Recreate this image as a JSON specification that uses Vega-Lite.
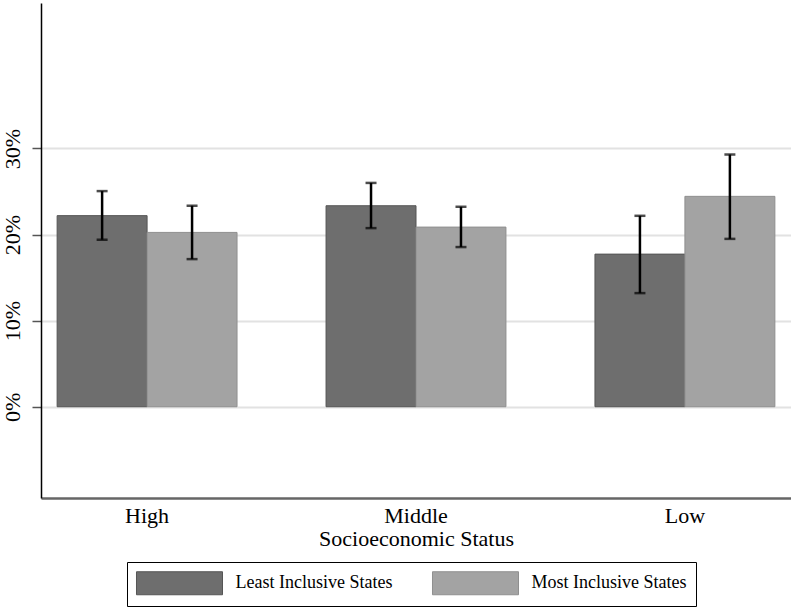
{
  "$schema": "https://vega.github.io/schema/vega-lite/v6.json",
  "width": 750,
  "height": 495,
  "autosize": {"type": "none"},
  "padding": {"left": 41, "top": 3, "right": 0, "bottom": 110},
  "background": "white",
  "config": {
    "view": {"stroke": null},
    "font": "Liberation Serif"
  },
  "data": {
    "values": [
      {"ses": "High", "group": "Least Inclusive States", "value": 22.2, "lo": 19.4, "hi": 25.05},
      {"ses": "High", "group": "Most Inclusive States", "value": 20.25, "lo": 17.15, "hi": 23.35},
      {"ses": "Middle", "group": "Least Inclusive States", "value": 23.35, "lo": 20.75, "hi": 26.0},
      {"ses": "Middle", "group": "Most Inclusive States", "value": 20.87, "lo": 18.55, "hi": 23.23},
      {"ses": "Low", "group": "Least Inclusive States", "value": 17.73, "lo": 13.2, "hi": 22.18},
      {"ses": "Low", "group": "Most Inclusive States", "value": 24.44, "lo": 19.5, "hi": 29.3}
    ]
  },
  "encoding": {
    "x": {
      "field": "ses",
      "type": "nominal",
      "sort": ["High", "Middle", "Low"],
      "scale": {"paddingInner": 0.331, "paddingOuter": 0.06},
      "axis": {
        "title": "Socioeconomic Status",
        "titleFont": "Liberation Serif",
        "titleFontSize": 22,
        "titleFontWeight": "normal",
        "titleColor": "black",
        "titlePadding": 2,
        "labelAngle": 0,
        "labelFont": "Liberation Serif",
        "labelFontSize": 22,
        "labelColor": "black",
        "labelPadding": 7,
        "ticks": false,
        "domainColor": "#666666",
        "domainWidth": 2.5
      }
    },
    "xOffset": {
      "field": "group",
      "type": "nominal",
      "scale": {"paddingInner": 0, "paddingOuter": 0}
    }
  },
  "layer": [
    {
      "mark": {"type": "bar", "strokeWidth": 1},
      "encoding": {
        "y": {
          "field": "value",
          "type": "quantitative",
          "scale": {"domain": [-10.6, 46.9], "nice": false, "zero": false},
          "axis": {
            "title": null,
            "values": [0, 10, 20, 30],
            "labelExpr": "datum.value + '%'",
            "labelAngle": 270,
            "labelAlign": "center",
            "labelBaseline": "alphabetic",
            "labelFont": "Liberation Serif",
            "labelFontSize": 22,
            "labelColor": "black",
            "labelPadding": 13,
            "grid": true,
            "gridColor": "#e2e2e2",
            "gridWidth": 2,
            "domainColor": "black",
            "domainWidth": 1.5,
            "tickColor": "#555555",
            "tickSize": 9,
            "tickWidth": 1.5
          }
        },
        "color": {
          "field": "group",
          "type": "nominal",
          "scale": {"range": ["#6e6e6e", "#a3a3a3"]},
          "legend": {
            "title": null,
            "orient": "none",
            "legendX": 86,
            "legendY": 559,
            "direction": "horizontal",
            "symbolType": "M-3.74,-1H3.74V1H-3.74Z",
            "symbolSize": 529,
            "symbolOffset": 31.5,
            "symbolStrokeWidth": 1,
            "symbolStrokeColor": "#5a5a5a",
            "symbolOpacity": 1,
            "labelFont": "Liberation Serif",
            "labelFontSize": 18,
            "labelColor": "black",
            "labelOffset": 44,
            "columnPadding": 37,
            "strokeColor": "black",
            "padding": 9,
            "labelLimit": 300
          }
        },
        "stroke": {
          "field": "group",
          "type": "nominal",
          "scale": {"range": ["#555555", "#8f8f8f"]},
          "legend": null
        }
      }
    },
    {
      "mark": {"type": "rule", "color": "black", "strokeWidth": 2.5},
      "encoding": {
        "y": {"field": "lo", "type": "quantitative"},
        "y2": {"field": "hi"}
      }
    },
    {
      "mark": {"type": "tick", "color": "black", "thickness": 2.5, "size": 11, "orient": "horizontal"},
      "encoding": {
        "y": {"field": "lo", "type": "quantitative"}
      }
    },
    {
      "mark": {"type": "tick", "color": "black", "thickness": 2.5, "size": 11, "orient": "horizontal"},
      "encoding": {
        "y": {"field": "hi", "type": "quantitative"}
      }
    }
  ]
}
